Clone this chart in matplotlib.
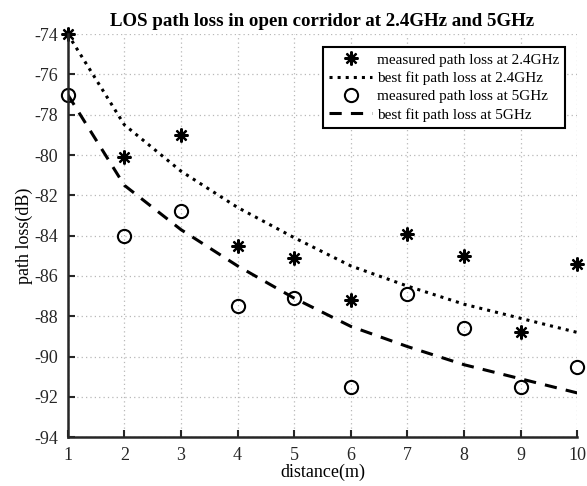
import numpy as np
import matplotlib.pyplot as plt

plt.rcParams['font.family'] = ['Liberation Serif', 'DejaVu Serif']
plt.rcParams['axes.unicode_minus'] = False

# data
distance = [1, 2, 3, 4, 5, 6, 7, 8, 9, 10]
meas_24 = [-74.0, -80.1, -79.0, -84.5, -85.1, -87.2, -83.9, -85.0, -88.8, -85.4]
fit_24 = [-74.0, -78.5, -80.8, -82.6, -84.1, -85.5, -86.5, -87.4, -88.1, -88.8]
meas_5 = [-77.0, -84.0, -82.8, -87.5, -87.1, -91.5, -86.9, -88.6, -91.5, -90.5]
fit_5 = [-77.0, -81.5, -83.7, -85.5, -87.1, -88.5, -89.5, -90.4, -91.1, -91.8]

fig = plt.figure(figsize=(5.87, 4.86), dpi=100)
ax = fig.add_axes([0.1153, 0.1002, 0.8682, 0.8298])

ax.plot(distance, meas_24, linestyle='none', marker=(8, 2, 0), markersize=10,
        markeredgewidth=1.6, color='k', clip_on=False,
        label='measured path loss at 2.4GHz')
ax.plot(distance, fit_24, linestyle=':', linewidth=2.2, color='k',
        label='best fit path loss at 2.4GHz')
ax.plot(distance, meas_5, linestyle='none', marker='o', markersize=9.5,
        markerfacecolor='none', markeredgewidth=1.5, color='k', clip_on=False,
        label='measured path loss at 5GHz')
ax.plot(distance, fit_5, linestyle=(0, (4, 3)), linewidth=2.2, color='k',
        label='best fit path loss at 5GHz')

ax.set_xlim(1, 10)
ax.set_ylim(-94, -74)
ax.set_xticks(range(1, 11))
ax.set_yticks(range(-94, -73, 2))
ax.grid(True, linestyle=(0, (1, 2.5)), color='#b8b8b8', linewidth=0.9)
ax.tick_params(direction='in', labelsize=13, length=5, width=1.5,
               colors='#262626', pad=7)
for s in ['top', 'right']:
    ax.spines[s].set_visible(False)
for s in ['left', 'bottom']:
    ax.spines[s].set_linewidth(1.8)
    ax.spines[s].set_color('#262626')
    ax.spines[s].set_clip_on(False)

ax.set_xlabel('distance(m)', fontsize=13, labelpad=0)
ax.set_ylabel('path loss(dB)', fontsize=13, labelpad=1)
ax.set_title('LOS path loss in open corridor at 2.4GHz and 5GHz',
             fontsize=13.6, fontweight='bold', pad=6)

leg = ax.legend(loc='upper right', bbox_to_anchor=(0.976, 0.968), fontsize=11,
                fancybox=False, framealpha=1, edgecolor='k', borderpad=0.4,
                labelspacing=0.3, handlelength=2.8, handletextpad=0.3,
                borderaxespad=0)
leg.get_frame().set_linewidth(1.5)

fig.savefig('out.png', dpi=100)
